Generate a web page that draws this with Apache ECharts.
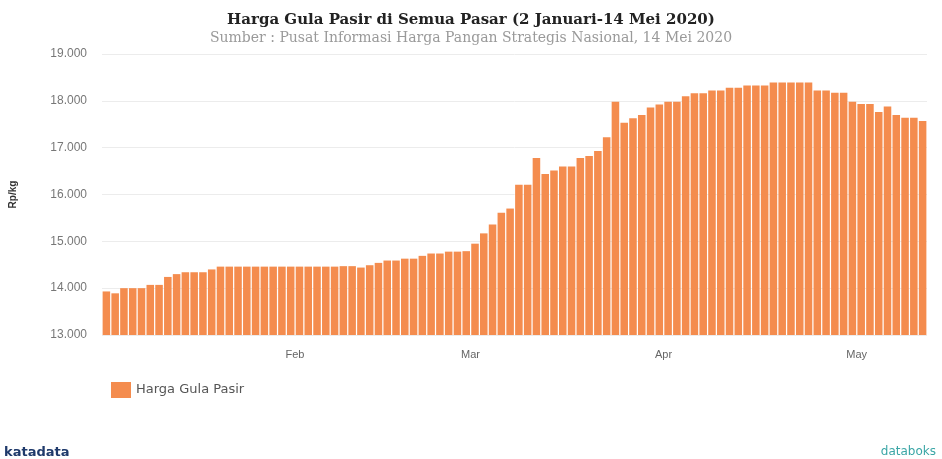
<!DOCTYPE html>
<html>
<head>
  <meta charset="UTF-8">
  <title>Harga Gula Pasir</title>
  <script src="https://cdn.jsdelivr.net/npm/echarts@6/dist/echarts.min.js"></script>
  <style>
    html, body { margin: 0; padding: 0; background: #fff; }
  </style>
</head>
<body>
  <div id="chart" style="width:942px; height:459px;"></div>
  <script>
    // trading days, 2 Jan - 14 May 2020
    var dates = [
      '2020-01-02','2020-01-03','2020-01-06','2020-01-07','2020-01-08','2020-01-09','2020-01-10',
      '2020-01-13','2020-01-14','2020-01-15','2020-01-16','2020-01-17','2020-01-20','2020-01-21',
      '2020-01-22','2020-01-23','2020-01-24','2020-01-27','2020-01-28','2020-01-29','2020-01-30','2020-01-31',
      '2020-02-03','2020-02-04','2020-02-05','2020-02-06','2020-02-07','2020-02-10','2020-02-11',
      '2020-02-12','2020-02-13','2020-02-14','2020-02-17','2020-02-18','2020-02-19','2020-02-20',
      '2020-02-21','2020-02-24','2020-02-25','2020-02-26','2020-02-27','2020-02-28',
      '2020-03-02','2020-03-03','2020-03-04','2020-03-05','2020-03-06','2020-03-09','2020-03-10',
      '2020-03-11','2020-03-12','2020-03-13','2020-03-16','2020-03-17','2020-03-18','2020-03-19',
      '2020-03-20','2020-03-23','2020-03-24','2020-03-25','2020-03-26','2020-03-27','2020-03-30','2020-03-31',
      '2020-04-01','2020-04-02','2020-04-03','2020-04-06','2020-04-07','2020-04-08','2020-04-09',
      '2020-04-10','2020-04-13','2020-04-14','2020-04-15','2020-04-16','2020-04-17','2020-04-20',
      '2020-04-21','2020-04-22','2020-04-23','2020-04-24','2020-04-27','2020-04-28','2020-04-29','2020-04-30',
      '2020-05-04','2020-05-05','2020-05-06','2020-05-08','2020-05-11','2020-05-12','2020-05-13','2020-05-14'
    ];
    var hargaGula = [
      13930, 13890, 14000, 14000, 14000, 14070, 14070, 14240, 14300, 14340, 14340,
      14340, 14400, 14460, 14460, 14460, 14460, 14460, 14460, 14460, 14460, 14460,
      14460, 14460, 14460, 14460, 14460, 14470, 14470, 14440, 14490, 14540,
      14590, 14590, 14630, 14630, 14690, 14740, 14740, 14780, 14780, 14790,
      14950, 15170, 15360, 15610, 15700, 16210, 16210, 16780, 16440, 16510, 16600,
      16600, 16780, 16820, 16930, 17220, 17980, 17530, 17630, 17700, 17860, 17920,
      17980, 17980, 18100, 18160, 18160, 18220, 18220, 18280, 18280, 18330, 18330,
      18330, 18390, 18390, 18390, 18390, 18390, 18220, 18220, 18170, 18170, 17980,
      17930, 17930, 17760, 17880, 17700, 17640, 17640, 17570
    ];
    var monthNames = ['Jan', 'Feb', 'Mar', 'Apr', 'May'];
    var yTicks = { min: 13000, max: 19000, step: 1000 };

    function monthStart(idx) {
      if (idx === 0) return false;
      return dates[idx].slice(5, 7) !== dates[idx - 1].slice(5, 7);
    }

    var chart = echarts.init(document.getElementById('chart'), null, {renderer: 'canvas'});
    chart.setOption({
      animation: false,
      title: {
        text: 'Harga Gula Pasir di Semua Pasar (2 Januari-14 Mei 2020)',
        subtext: 'Sumber : Pusat Informasi Harga Pangan Strategis Nasional, 14 Mei 2020',
        left: 'center',
        top: 8,
        itemGap: 3,
        textStyle: { fontFamily: 'DejaVu Serif', fontSize: 15, fontWeight: 'bold', color: '#222' },
        subtextStyle: { fontFamily: 'DejaVu Serif', fontSize: 14, color: '#9a9a9a' }
      },
      legend: {
        left: 106,
        top: 377,
        itemWidth: 20,
        itemHeight: 16,
        icon: 'rect',
        textStyle: { fontSize: 13, color: '#555', fontFamily: 'DejaVu Sans' },
        data: ['Harga Gula Pasir']
      },
      grid: { left: 100, right: 15, top: 54, bottom: 124 },
      xAxis: {
        type: 'category',
        data: dates,
        axisLine: { show: false },
        axisTick: { show: false },
        axisLabel: {
          interval: function (idx) { return monthStart(idx); },
          formatter: function (v) { return monthNames[parseInt(v.slice(5, 7), 10) - 1]; },
          color: '#666',
          fontSize: 11,
          margin: 14,
          padding: [0, 9, 0, 0]
        }
      },
      yAxis: {
        type: 'value',
        min: yTicks.min,
        max: yTicks.max,
        interval: yTicks.step,
        name: 'Rp/kg',
        nameLocation: 'middle',
        nameRotate: 90,
        nameGap: 84,
        nameTextStyle: { fontSize: 10, fontWeight: 'bold', color: '#333' },
        axisLabel: {
          color: '#777',
          fontSize: 12,
          margin: 15,
          formatter: function (v) { return v.toLocaleString('id-ID'); }
        },
        splitLine: { lineStyle: { color: '#ececec' } }
      },
      series: [{
        name: 'Harga Gula Pasir',
        type: 'bar',
        data: hargaGula,
        barCategoryGap: '14%',
        itemStyle: { color: '#F48C4E' }
      }],
      graphic: [
        {
          type: 'text', left: 4, top: 446,
          style: { text: 'katadata', fontSize: 13, fontWeight: 'bold', fill: '#1f3a6b', fontFamily: 'DejaVu Sans' }
        },
        {
          type: 'text', right: 6, top: 446,
          style: { text: 'databoks', fontSize: 12, fill: '#3aa6a6', fontFamily: 'DejaVu Sans' }
        }
      ]
    });
  </script>
</body>
</html>
